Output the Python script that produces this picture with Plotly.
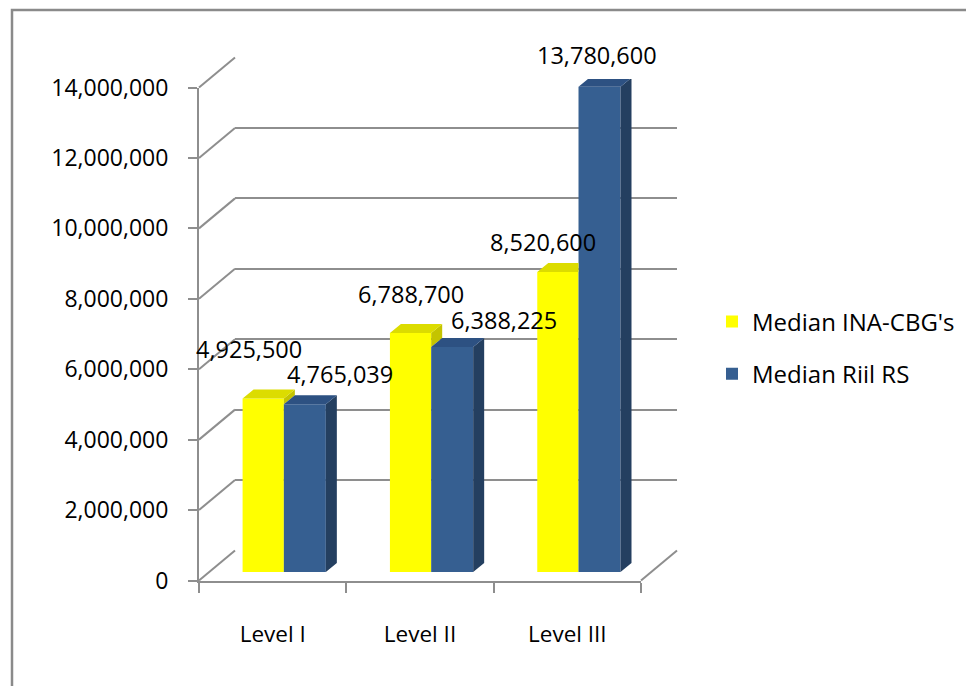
import plotly.graph_objects as go

# ---------------- data ----------------
CATEGORIES = ["Level I", "Level II", "Level III"]
SERIES_NAMES = ["Median INA-CBG's", "Median Riil RS"]
MEDIAN_INA_CBG = [4925500, 6788700, 8520600]
MEDIAN_RIIL_RS = [4765039, 6388225, 13780600]
Y_TICKS = [0, 2000000, 4000000, 6000000, 8000000, 10000000, 12000000, 14000000]
Y_MAX = 14000000

# ---------------- layout geometry (page pixels) ----------------
W, H = 974, 686
PAGE_OFF = 8                # default body margin of the html page
FRONT_X = (199, 641)
FRONT_Y = (580.5, 87.5)
BACK_SHIFT = (36, -30)      # perspective shift of back wall
BAR_SHIFT = (10, -8.5)      # bars sit slightly behind front plane
BAR_DEPTH = (11, -9)        # extrusion of the bars

YELLOW = "#FFFF00"
YELLOW_TOP = "#DCDC00"
YELLOW_SIDE = "#C4C400"
BLUE = "#365F91"
BLUE_TOP = "#2D5182"
BLUE_SIDE = "#243F60"
GRID = "#8E8E8E"
FONT = "Open Sans"


def px(x):
    return (x - PAGE_OFF) / W


def py(y):
    return 1 - (y - PAGE_OFF) / H


def dom_x(shift):
    return [px(FRONT_X[0] + shift[0]), px(FRONT_X[1] + shift[0])]


def dom_y(shift):
    return [py(FRONT_Y[0] + shift[1]), py(FRONT_Y[1] + shift[1])]


XR = [-0.5, 2.5]
YR = [0, Y_MAX]
cat_px = (FRONT_X[1] - FRONT_X[0]) / 3
val_px = (FRONT_Y[0] - FRONT_Y[1]) / Y_MAX
DXC = BAR_DEPTH[0] / cat_px
DYV = -BAR_DEPTH[1] / val_px

Y_OFF, Y_W = -0.272, 0.28
B_OFF, B_W = Y_OFF + Y_W, 0.285

fig = go.Figure()

# empty traces so every subplot exists
fig.add_trace(go.Scatter(x=[], y=[], xaxis="x", yaxis="y", showlegend=False))
fig.add_trace(go.Scatter(x=[], y=[], xaxis="x2", yaxis="y2", showlegend=False))

idx = list(range(len(CATEGORIES)))
fig.add_trace(go.Bar(
    x=idx, y=MEDIAN_INA_CBG, name=SERIES_NAMES[0], xaxis="x3", yaxis="y3",
    width=Y_W, offset=Y_OFF, marker=dict(color=YELLOW, line=dict(width=0)),
    legendgroup="a", hoverinfo="y"))
fig.add_trace(go.Bar(
    x=idx, y=MEDIAN_RIIL_RS, name=SERIES_NAMES[1], xaxis="x3", yaxis="y3",
    width=B_W, offset=B_OFF, marker=dict(color=BLUE, line=dict(width=0)),
    legendgroup="b", hoverinfo="y"))

# 3D faces computed from the data values
faces = {YELLOW_SIDE: ([], []), YELLOW_TOP: ([], []), BLUE_SIDE: ([], []), BLUE_TOP: ([], [])}


def add_poly(color, pts):
    xs, ys = faces[color]
    for (a, b) in pts:
        xs.append(a)
        ys.append(b)
    xs.append(pts[0][0])
    ys.append(pts[0][1])
    xs.append(None)
    ys.append(None)


for i in idx:
    vy, vb = MEDIAN_INA_CBG[i], MEDIAN_RIIL_RS[i]
    yl, yr = i + Y_OFF, i + Y_OFF + Y_W
    bl, br = i + B_OFF, i + B_OFF + B_W
    if vy > vb:
        lo = vb
        add_poly(YELLOW_SIDE, [(yr, lo), (yr + DXC, lo + DYV), (yr + DXC, vy + DYV), (yr, vy)])
        add_poly(YELLOW_TOP, [(yl, vy), (yl + DXC, vy + DYV), (yr + DXC, vy + DYV), (yr, vy)])
    else:
        add_poly(YELLOW_TOP, [(yl, vy), (yl + DXC, vy + DYV), (yr, vy + DYV), (yr, vy)])
    add_poly(BLUE_SIDE, [(br, 0), (br + DXC, DYV), (br + DXC, vb + DYV), (br, vb)])
    add_poly(BLUE_TOP, [(bl, vb), (bl + DXC, vb + DYV), (br + DXC, vb + DYV), (br, vb)])

for color, (xs, ys) in faces.items():
    fig.add_trace(go.Scatter(
        x=xs, y=ys, xaxis="x3", yaxis="y3", mode="lines", fill="toself",
        fillcolor=color, line=dict(width=0, color=color), showlegend=False,
        hoverinfo="skip"))

# data labels (pixel nudges mimic Excel 3D label placement)
LABEL_NUDGE = {
    0: [(-14, 50), (0, 39), (-15, 30)],
    1: [(35, 30), (52, 27), (-3, 32)],
}
annotations = []
for s, (vals, off, wdt) in enumerate([(MEDIAN_INA_CBG, Y_OFF, Y_W), (MEDIAN_RIIL_RS, B_OFF, B_W)]):
    for i in idx:
        dx, dy = LABEL_NUDGE[s][i]
        annotations.append(dict(
            x=i + off + wdt / 2, y=vals[i], xref="x3", yref="y3",
            text=f"{vals[i]:,}", showarrow=False, xshift=dx, yshift=dy,
            xanchor="center", yanchor="middle",
            font=dict(family=FONT, size=23.5, color="#000000")))

# perspective lines (left wall, floor edge) and outer frame
shapes = []
yf0, yf1 = dom_y((0, 0))
yb0, yb1 = dom_y(BACK_SHIFT)
for v in Y_TICKS:
    t = v / Y_MAX
    shapes.append(dict(
        type="line", xref="paper", yref="paper",
        x0=px(FRONT_X[0]), y0=yf0 + t * (yf1 - yf0),
        x1=px(FRONT_X[0] + BACK_SHIFT[0]), y1=yb0 + t * (yb1 - yb0),
        line=dict(color=GRID, width=2), layer="below"))
shapes.append(dict(
    type="line", xref="paper", yref="paper",
    x0=px(FRONT_X[1]), y0=yf0, x1=px(FRONT_X[1] + BACK_SHIFT[0]), y1=yb0,
    line=dict(color=GRID, width=2), layer="below"))
shapes.append(dict(
    type="rect", xref="paper", yref="paper",
    x0=px(12), y0=-0.2, x1=1.2, y1=py(10),
    line=dict(color="#8A8A8A", width=2.5), layer="below"))

fig.update_layout(
    width=W, height=H,
    margin=dict(l=0, r=0, t=0, b=0, pad=0, autoexpand=False),
    paper_bgcolor="white", plot_bgcolor="rgba(0,0,0,0)",
    barmode="overlay",
    font=dict(family=FONT, size=24, color="#000000"),
    showlegend=True,
    legend=dict(
        x=px(712), y=py(348), xanchor="left", yanchor="middle",
        font=dict(family=FONT, size=24, color="#000000"),
        tracegroupgap=18, traceorder="grouped", bgcolor="rgba(0,0,0,0)"),
    xaxis=dict(
        domain=dom_x((0, 0)), range=XR, anchor="y", automargin=False,
        tickmode="array", tickvals=idx, ticktext=CATEGORIES,
        ticks="", showgrid=False, zeroline=False,
        showline=True, linecolor=GRID, linewidth=2,
        tickfont=dict(family=FONT, size=22.5, color="#000000"),
        ticklabelstandoff=32,
        minor=dict(tickmode="array", tickvals=[-0.5, 0.5, 1.5, 2.5],
                   ticks="outside", ticklen=10, tickcolor=GRID, tickwidth=2),
        fixedrange=True),
    yaxis=dict(
        domain=dom_y((0, 0)), range=YR, anchor="x", automargin=False,
        tickmode="array", tickvals=Y_TICKS, tickformat=",",
        ticks="outside", ticklen=9, tickcolor=GRID, tickwidth=2,
        showgrid=False, zeroline=False,
        showline=True, linecolor=GRID, linewidth=2,
        tickfont=dict(family=FONT, size=23, color="#000000"),
        ticklabelstandoff=15, fixedrange=True),
    xaxis2=dict(
        domain=dom_x(BACK_SHIFT), range=XR, anchor="y2", automargin=False,
        visible=False, fixedrange=True),
    yaxis2=dict(
        domain=dom_y(BACK_SHIFT), range=YR, anchor="x2", automargin=False,
        tickmode="array", tickvals=Y_TICKS, showticklabels=False,
        ticks="", showgrid=True, gridcolor=GRID, gridwidth=2,
        zeroline=False, showline=False, fixedrange=True),
    xaxis3=dict(
        domain=dom_x(BAR_SHIFT), range=XR, anchor="y3", automargin=False,
        visible=False, fixedrange=True),
    yaxis3=dict(
        domain=dom_y(BAR_SHIFT), range=YR, anchor="x3", automargin=False,
        visible=False, fixedrange=True),
    annotations=annotations,
    shapes=shapes,
)

fig.write_html("out.html")
